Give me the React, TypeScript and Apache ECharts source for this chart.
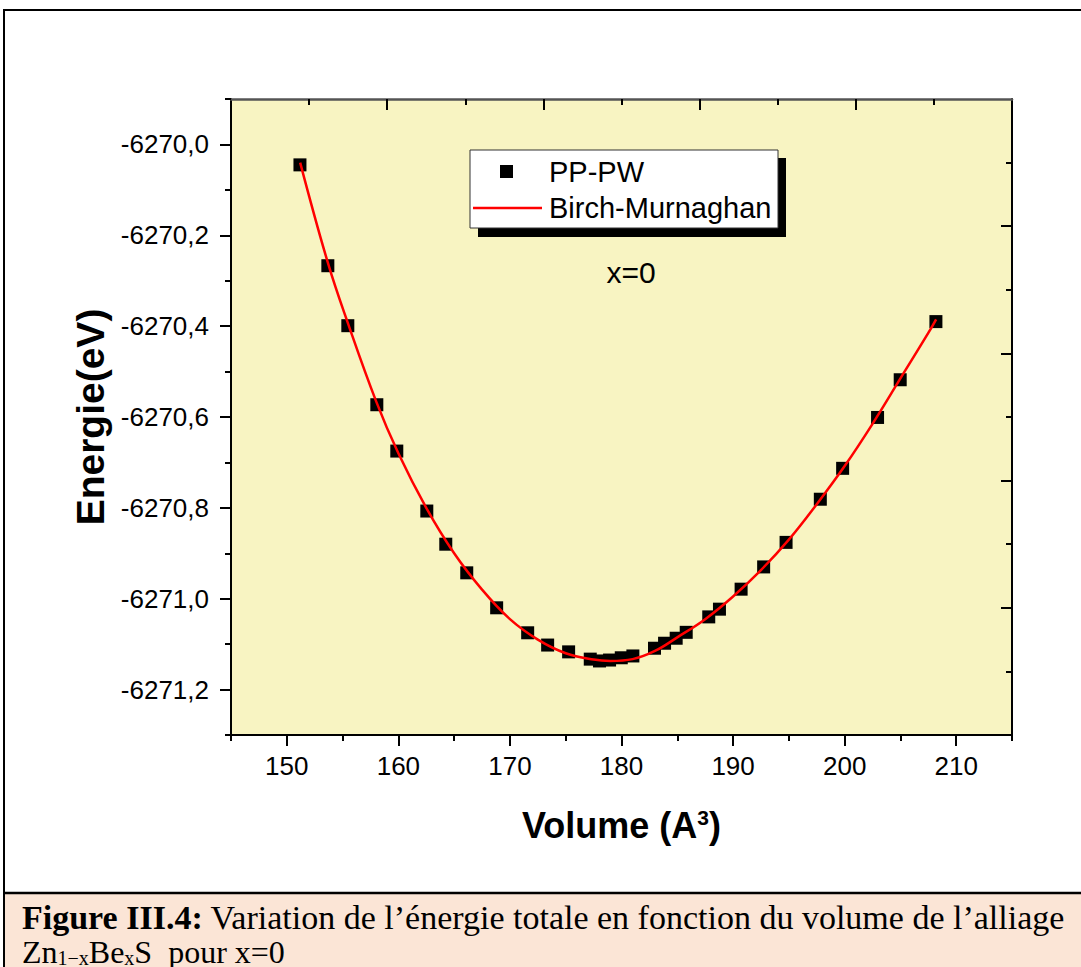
import React, { useEffect, useRef } from 'react';
import * as echarts from 'echarts';

// PP-PW computed points (Volume in A^3, Energy in eV)
const volume = [151.18, 153.68, 155.47, 158.07, 159.86, 162.55, 164.25, 166.13, 168.81, 171.59, 173.38, 175.26, 177.2, 178.03, 178.93, 179.98, 181.02, 182.96, 183.86, 184.9, 185.8, 187.82, 188.78, 190.72, 192.74, 194.75, 197.82, 199.82, 202.95, 204.98, 208.18];
const energy = [-6270.045, -6270.267, -6270.399, -6270.573, -6270.675, -6270.807, -6270.88, -6270.943, -6271.02, -6271.075, -6271.102, -6271.117, -6271.133, -6271.137, -6271.135, -6271.13, -6271.126, -6271.109, -6271.098, -6271.087, -6271.074, -6271.04, -6271.023, -6270.979, -6270.93, -6270.876, -6270.781, -6270.713, -6270.601, -6270.518, -6270.39];

// Birch-Murnaghan fitted curve
const fitVolume = [151.2, 153.7, 155.5, 158.0, 160.0, 162.5, 165.0, 167.5, 170.0, 172.5, 175.0, 177.5, 179.0, 181.0, 183.0, 185.0, 187.5, 190.0, 192.5, 195.0, 197.5, 200.0, 202.5, 205.0, 207.5, 208.2];
const fitEnergy = [-6270.04, -6270.262, -6270.395, -6270.565, -6270.68, -6270.8, -6270.9, -6270.98, -6271.045, -6271.09, -6271.12, -6271.134, -6271.137, -6271.133, -6271.115, -6271.085, -6271.045, -6270.995, -6270.937, -6270.87, -6270.792, -6270.708, -6270.615, -6270.515, -6270.415, -6270.385];

// ticks
const xMajor = [150, 160, 170, 180, 190, 200, 210];
const xMinor = [145, 155, 165, 175, 185, 195, 205, 215];
const yMajor = [-6271.2, -6271.0, -6270.8, -6270.6, -6270.4, -6270.2, -6270.0];
const yMinor = [-6271.3, -6271.1, -6270.9, -6270.7, -6270.5, -6270.3, -6270.1, -6269.9];
const frameMajor = [2, 4, 6, 8];
const frameMinor = [1, 3, 5, 7, 9];

const SANS = 'Liberation Sans, Arial, sans-serif';
const SERIF = 'Liberation Serif, Times New Roman, serif';

export default function App() {
  const ref = useRef<HTMLDivElement>(null);
  useEffect(() => {
    if (!ref.current) return;
    const chart = echarts.init(ref.current, null, { renderer: 'svg' });
    const tickStyle = { color: '#000', width: 2 };
    const option: any = {
      animation: false,
      backgroundColor: '#fff',
      grid: {
        left: 231, right: 69, top: 99, bottom: 232,
        show: true, backgroundColor: '#F8F4C2', borderWidth: 0,
      },
      xAxis: [
        {
          type: 'value', position: 'bottom', min: 145, max: 215,
          axisLine: { show: true, onZero: false, lineStyle: { color: '#000', width: 2 } },
          axisTick: { show: true, customValues: xMajor, length: 11, inside: false, lineStyle: tickStyle },
          axisLabel: { customValues: xMajor, fontSize: 26, color: '#000', margin: 18, fontFamily: SANS },
          splitLine: { show: false },
          name: 'Volume (A{sup|3})', nameLocation: 'middle', nameGap: 72,
          nameTextStyle: {
            fontSize: 36, fontWeight: 'bold', color: '#000', fontFamily: SANS,
            rich: { sup: { fontSize: 21, fontWeight: 'bold', color: '#000', fontFamily: SANS, verticalAlign: 'top', padding: [0, 0, 8, 0] } },
          },
        },
        {
          type: 'value', position: 'bottom', min: 145, max: 215,
          axisLine: { show: false, onZero: false },
          axisTick: { show: true, customValues: xMinor, length: 6, inside: false, lineStyle: tickStyle },
          axisLabel: { show: false }, splitLine: { show: false },
        },
        {
          type: 'value', position: 'top', min: 0, max: 10,
          axisLine: { show: true, onZero: false, lineStyle: { color: '#555', width: 2.5 } },
          axisTick: { show: true, customValues: frameMajor, length: 11, inside: true, lineStyle: tickStyle },
          axisLabel: { show: false }, splitLine: { show: false },
        },
        {
          type: 'value', position: 'top', min: 0, max: 10,
          axisLine: { show: false, onZero: false },
          axisTick: { show: true, customValues: frameMinor, length: 6, inside: true, lineStyle: tickStyle },
          axisLabel: { show: false }, splitLine: { show: false },
        },
      ],
      yAxis: [
        {
          type: 'value', position: 'left', min: -6271.3, max: -6269.9,
          axisLine: { show: true, onZero: false, lineStyle: { color: '#000', width: 2 } },
          axisTick: { show: true, customValues: yMajor, length: 11, inside: false, lineStyle: tickStyle },
          axisLabel: {
            customValues: yMajor, fontSize: 26, color: '#000', margin: 22, fontFamily: SANS,
            formatter: (v: number) => v.toFixed(1).replace('.', ','),
          },
          splitLine: { show: false },
          name: 'Energie(eV)', nameLocation: 'middle', nameGap: 117,
          nameTextStyle: { fontSize: 39, fontWeight: 'bold', color: '#000', fontFamily: SANS },
        },
        {
          type: 'value', position: 'left', min: -6271.3, max: -6269.9,
          axisLine: { show: false, onZero: false },
          axisTick: { show: true, customValues: yMinor, length: 6, inside: false, lineStyle: tickStyle },
          axisLabel: { show: false }, splitLine: { show: false },
        },
        {
          type: 'value', position: 'right', min: 0, max: 10,
          axisLine: { show: true, onZero: false, lineStyle: { color: '#000', width: 2 } },
          axisTick: { show: true, customValues: frameMajor, length: 11, inside: true, lineStyle: tickStyle },
          axisLabel: { show: false }, splitLine: { show: false },
        },
        {
          type: 'value', position: 'right', min: 0, max: 10,
          axisLine: { show: false, onZero: false },
          axisTick: { show: true, customValues: frameMinor, length: 6, inside: true, lineStyle: tickStyle },
          axisLabel: { show: false }, splitLine: { show: false },
        },
      ],
      series: [
        {
          name: 'PP-PW', type: 'scatter', xAxisIndex: 0, yAxisIndex: 0,
          symbol: 'rect', symbolSize: 13,
          itemStyle: { color: '#000', opacity: 1 },
          data: volume.map((v, i) => [v, energy[i]]),
          z: 2,
        },
        {
          name: 'Birch-Murnaghan', type: 'line', xAxisIndex: 0, yAxisIndex: 0,
          smooth: 0.4, showSymbol: false, symbol: 'none',
          lineStyle: { color: '#FF0000', width: 2.5 },
          data: fitVolume.map((v, i) => [v, fitEnergy[i]]),
          z: 3,
        },
      ],
      graphic: [
        // outer frame
        { type: 'rect', shape: { x: 4, y: 10, width: 1100, height: 1000 }, style: { fill: 'none', stroke: '#000', lineWidth: 2 }, silent: true },
        // caption background
        { type: 'rect', shape: { x: 5, y: 894, width: 1080, height: 80 }, style: { fill: '#FBE5D6' }, silent: true },
        { type: 'line', shape: { x1: 4, y1: 893, x2: 1081, y2: 893 }, style: { stroke: '#000', lineWidth: 2.5 }, silent: true },
        { type: 'line', shape: { x1: 4, y1: 10, x2: 4, y2: 967 }, style: { stroke: '#000', lineWidth: 2 }, silent: true },
        // legend
        { type: 'rect', shape: { x: 478, y: 158, width: 308, height: 79 }, style: { fill: '#000' }, z: 10 },
        { type: 'rect', shape: { x: 470, y: 150, width: 308, height: 78 }, style: { fill: '#fff', stroke: '#333', lineWidth: 1 }, z: 11 },
        { type: 'rect', shape: { x: 500, y: 165, width: 13, height: 13 }, style: { fill: '#000' }, z: 12 },
        { type: 'line', shape: { x1: 473, y1: 208, x2: 542, y2: 208 }, style: { stroke: '#FF0000', lineWidth: 2.5 }, z: 12 },
        { type: 'text', x: 549, y: 172, z: 12, style: { text: 'PP-PW', fill: '#000', font: `29px ${SANS}`, verticalAlign: 'middle' } },
        { type: 'text', x: 549, y: 208, z: 12, style: { text: 'Birch-Murnaghan', fill: '#000', font: `29px ${SANS}`, verticalAlign: 'middle' } },
        // annotation
        { type: 'text', x: 631, y: 272, z: 12, style: { text: 'x=0', fill: '#000', font: `30px ${SANS}`, align: 'center', verticalAlign: 'middle' } },
        // caption
        {
          type: 'text', x: 22, y: 917, z: 12,
          style: {
            text: '{b|Figure III.4:} Variation de l’énergie totale en fonction du volume de l’alliage',
            fill: '#000', font: `34px ${SERIF}`, verticalAlign: 'middle',
            rich: { b: { fontWeight: 'bold', fontSize: 34, fontFamily: SERIF, fill: '#000' } },
          },
        },
        {
          type: 'text', x: 22, y: 952, z: 12,
          style: {
            text: 'Zn{sub|1−x}Be{sub|x}S  pour x=0',
            fill: '#000', font: `32px ${SERIF}`, verticalAlign: 'middle',
            rich: { sub: { fontSize: 20, fontFamily: SERIF, fill: '#000', verticalAlign: 'bottom' } },
          },
        },
      ],
    };
    chart.setOption(option);
    return () => chart.dispose();
  }, []);
  return <div ref={ref} style={{ position: 'absolute', left: 0, top: 0, width: 1081, height: 967 }} />;
}
